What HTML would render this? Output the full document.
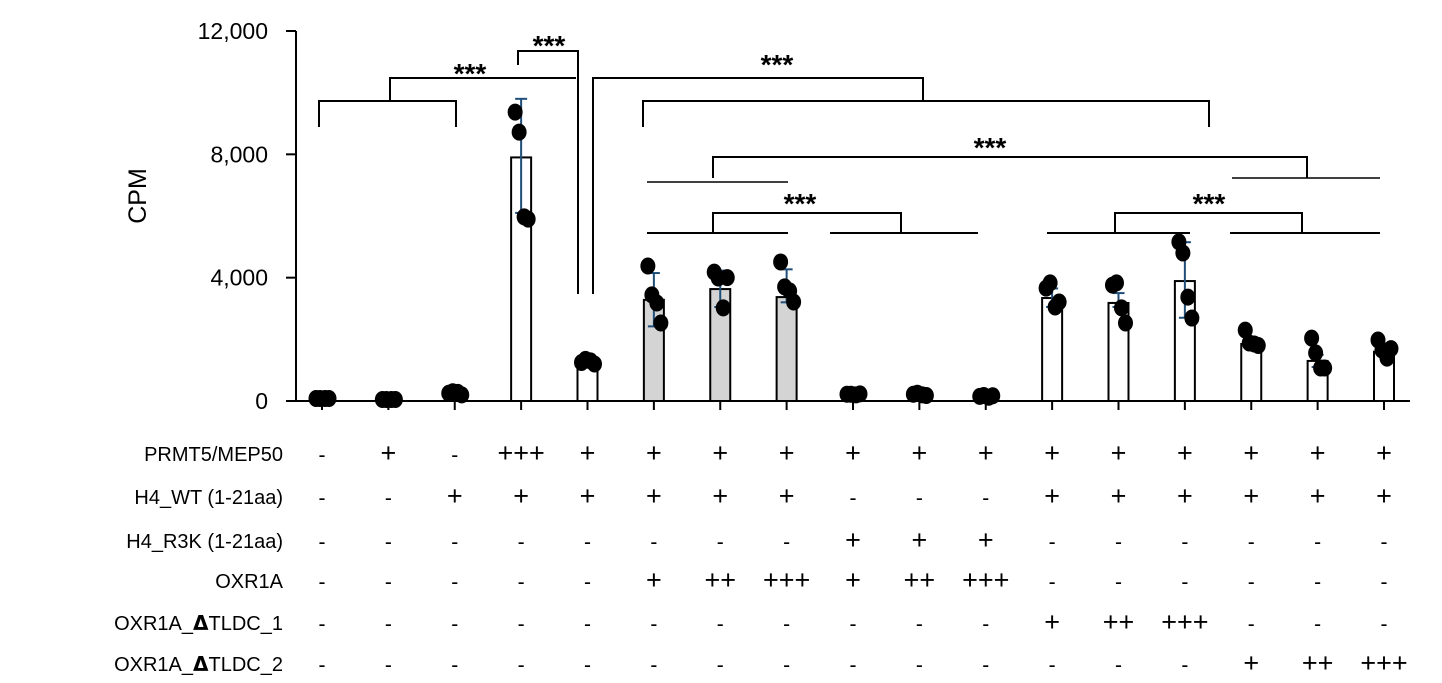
<!DOCTYPE html>
<html><head><meta charset="utf-8"><style>
body{margin:0;background:#fff;width:1442px;height:683px;overflow:hidden}
svg{display:block;font-family:"Liberation Sans",Arial,sans-serif}
</style></head><body>
<svg id="chart" width="1442" height="683" viewBox="0 0 1442 683" xmlns="http://www.w3.org/2000/svg">
<g id="axes"></g>
<g id="bars"></g>
<g id="brackets"></g>
<g id="table"></g>
<text x="146" y="196" font-size="25" text-anchor="middle" transform="rotate(-90 146 196)">CPM</text>
</svg>
<script>
const categories=["c1","c2","c3","c4","c5","c6","c7","c8","c9","c10","c11","c12","c13","c14","c15","c16","c17"];
const means=[80,50,250,7900,1250,3280,3630,3370,200,200,150,3340,3180,3890,1850,1300,1600];
const errHigh=[80,50,300,9800,1350,4150,4230,4270,230,250,180,3650,3500,5150,2050,1500,1750];
const errLow=[80,50,200,6100,1150,2420,3050,3200,170,150,120,3050,3050,2700,1700,1100,1450];
const points=[[80,80,80,80],[50,50,50,50],[250,300,280,200],[9370,8720,5970,5900],[1250,1350,1300,1200],[4380,3440,3180,2530],[4180,3990,3020,4000],[4510,3700,3570,3210],[220,220,200,230],[220,250,200,180],[150,180,120,170],[3660,3830,3050,3210],[3760,3830,3020,2530],[5160,4800,3370,2690],[2300,1880,1850,1800],[2040,1560,1070,1070],[1980,1650,1390,1700]];
const gray=[0,0,0,0,0,1,1,1,0,0,0,0,0,0,0,0,0];
const yTicks=[0,4000,8000,12000];
const yTickLabels=["0","4,000","8,000","12,000"];
const rowLabels=["PRMT5/MEP50","H4_WT (1-21aa)","H4_R3K (1-21aa)","OXR1A","OXR1A_ΔTLDC_1","OXR1A_ΔTLDC_2"];
const rows=[
["-","+","-","+++","+","+","+","+","+","+","+","+","+","+","+","+","+"],
["-","-","+","+","+","+","+","+","-","-","-","+","+","+","+","+","+"],
["-","-","-","-","-","-","-","-","+","+","+","-","-","-","-","-","-"],
["-","-","-","-","-","+","++","+++","+","++","+++","-","-","-","-","-","-"],
["-","-","-","-","-","-","-","-","-","-","-","+","++","+++","-","-","-"],
["-","-","-","-","-","-","-","-","-","-","-","-","-","-","+","++","+++"]];
const rowY=[454,497,541,581,623,664];
const NS="http://www.w3.org/2000/svg";
const y=v=>401-v*(370/12000);
const x=i=>322+i*66.375;
function mk(tag,attrs,parent,txt){const e=document.createElementNS(NS,tag);for(const k in attrs)e.setAttribute(k,attrs[k]);if(txt!==undefined)e.textContent=txt;parent.appendChild(e);return e;}
const axes=document.getElementById('axes');
let e=mk('line',{x1:296,y1:y(12000),x2:296,y2:401,stroke:'#000','stroke-width':2},axes);

e=mk('line',{x1:296,y1:401,x2:1410,y2:401,stroke:'#000','stroke-width':2},axes);

yTicks.forEach((t,i)=>{
 e=mk('line',{x1:286,x2:296,y1:y(t),y2:y(t),stroke:'#000','stroke-width':2},axes);
 
 e=mk('text',{x:268,y:y(t)+8,'font-size':23,'text-anchor':'end'},axes,yTickLabels[i]);
 
});
const bars=document.getElementById('bars');
categories.forEach((c,i)=>{
 const cx=x(i);
 e=mk('line',{x1:cx,x2:cx,y1:401,y2:410,stroke:'#000','stroke-width':2},axes);
 
 e=mk('rect',{x:cx-10,y:y(means[i]),width:20,height:401-y(means[i]),fill:gray[i]?'#d4d4d4':'#fff',stroke:'#000','stroke-width':2},bars);
 
 const g=mk('g',{},bars);
 
 mk('line',{x1:cx,x2:cx,y1:y(errHigh[i]),y2:y(errLow[i]),stroke:'#1f4e79','stroke-width':2},g);
 mk('line',{x1:cx-6,x2:cx+6,y1:y(errHigh[i]),y2:y(errHigh[i]),stroke:'#1f4e79','stroke-width':2},g);
 mk('line',{x1:cx-6,x2:cx+6,y1:y(errLow[i]),y2:y(errLow[i]),stroke:'#1f4e79','stroke-width':2},g);
 const offs=[-6,-2,3,7];
 points[i].forEach((p,j)=>{
  e=mk('ellipse',{cx:cx+offs[j],cy:y(p),rx:7.5,ry:8.5,fill:'#000'},bars);
  
 });
});
const br=document.getElementById('brackets');
function pl(pts,w){e=mk('polyline',{points:pts,fill:'none',stroke:'#000','stroke-width':w||2},br);}
function star(px,py){e=mk('text',{x:px,y:py,'font-size':28,'font-weight':'bold','text-anchor':'middle'},br,'***');}
pl("319,127 319,101 456,101 456,127");pl("390,101 390,78 576,78");star(470,83);
pl("518,65 518,51 578,51 578,294");star(549,55);
pl("593,294 593,78 923,78 923,101");pl("643,127 643,101 1209,101 1209,127");star(777,74);
pl("713,178 713,157 1307,157 1307,178");pl("647,182 788,182",1.5);pl("1232,178 1380,178",1.5);star(990,157);
pl("713,233 713,213 901,213 901,233");pl("647,233 788,233");pl("830,233 978,233");star(800,213);
pl("1115,233 1115,213 1302,213 1302,233");pl("1047,233 1190,233");pl("1230,233 1380,233");star(1209,213);
const tb=document.getElementById('table');
rowLabels.forEach((l,r)=>{
 let t;
 if(l.includes('Δ')){const parts=l.split('Δ');t=mk('text',{x:283,y:rowY[r]+7,'font-size':20,'text-anchor':'end'},tb);
  mk('tspan',{},t,parts[0]);mk('tspan',{'font-weight':'bold','font-family':'DejaVu Sans'},t,'Δ');mk('tspan',{},t,parts[1]);}
 else t=mk('text',{x:283,y:rowY[r]+7,'font-size':20,'text-anchor':'end'},tb,l);
 
 rows[r].forEach((s,i)=>{
  e=mk('text',{x:x(i),y:rowY[r]+8,'font-size':s==='-'?21:27,'text-anchor':'middle'},tb,s);
  
 });
});
</script>
</body></html>
